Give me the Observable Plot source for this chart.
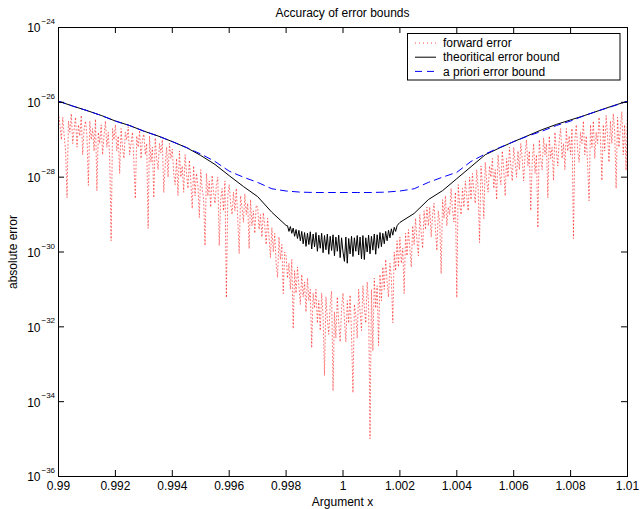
<!DOCTYPE html>
<html><head><meta charset="utf-8">
<script src="https://cdn.jsdelivr.net/npm/d3@7"></script>
<script src="https://cdn.jsdelivr.net/npm/@observablehq/plot@0.6"></script>
<style>
body{margin:0;background:#fff;}
#wrap{position:relative;width:640px;height:509px;font-family:"Liberation Sans",Arial,sans-serif;font-size:12px;color:#000;overflow:hidden;}
#wrap > svg{position:absolute;left:0;top:0;}
.lbl{position:absolute;white-space:nowrap;line-height:14px;}
</style></head><body><div id="wrap"></div>
<script>
// ---- data (log10 of absolute error) ----
const titleText = "Accuracy of error bounds";
const xLabel = "Argument x";
const yLabel = "absolute error";
const seriesNames = ["forward error", "theoritical error bound", "a priori error bound"];

const xTicks = [0.99, 0.992, 0.994, 0.996, 0.998, 1, 1.002, 1.004, 1.006, 1.008, 1.01];
const xTickLabels = ["0.99", "0.992", "0.994", "0.996", "0.998", "1", "1.002", "1.004", "1.006", "1.008", "1.01"];
const yExps = [-36, -34, -32, -30, -28, -26, -24];

// forward error, x from 0.99 to 1.01 (uniform samples)
const forwardLog = [
-26.3,-26.6,-27.0,-26.4,-26.9,-27.3,-28.55,-26.5,-26.8,-26.3,-27.1,-26.7,-26.4,-27.2,-26.6,-26.9,-26.35,-27.4,-26.7,-26.5,
-26.9,-28.22,-26.5,-27.0,-26.7,-27.3,-26.45,-28.36,-26.8,-27.1,-26.6,-27.4,-26.9,-26.5,-27.2,-26.8,-27.5,-29.70,-26.7,-27.0,
-26.6,-27.3,-26.9,-27.90,-26.7,-27.2,-27.5,-26.8,-27.0,-26.65,-27.4,-27.1,-26.8,-27.6,-28.57,-26.9,-27.2,-26.75,-27.5,-27.0,
-26.85,-27.4,-27.1,-29.37,-26.9,-27.6,-27.2,-28.55,-26.95,-27.5,-27.8,-27.1,-27.35,-27.0,-28.41,-27.7,-27.2,-28.0,-27.1,-27.5,
-27.25,-27.9,-28.2,-27.5,-28.49,-27.3,-28.0,-27.7,-28.4,-27.4,-27.9,-28.3,-27.55,-28.1,-28.84,-27.7,-28.5,-27.9,-28.2,-29.08,
-27.8,-28.3,-28.6,-29.83,-27.9,-28.5,-28.1,-28.8,-27.95,-28.4,-28.7,-28.2,-28.0,-29.83,-28.6,-28.3,-28.9,-28.1,-31.22,-28.5,
-28.2,-28.7,-29.0,-28.4,-28.9,-28.3,-29.1,-30.04,-28.5,-28.8,-29.2,-28.45,-29.0,-28.7,-29.91,-28.6,-29.3,-28.9,-29.5,-28.75,
-28.8,-29.4,-29.0,-29.6,-28.95,-29.3,-29.8,-29.1,-29.6,-30.15,-29.35,-30.0,-29.5,-30.3,-30.68,-29.6,-30.2,-29.8,-31.11,-30.0,
-30.1,-30.7,-30.3,-31.0,-30.2,-32.05,-30.5,-31.1,-30.4,-30.9,-31.4,-30.6,-31.2,-30.8,-31.6,-30.7,-31.3,-31.0,-32.56,-31.1,
-31.5,-31.0,-31.9,-31.3,-32.1,-31.1,-31.7,-33.30,-31.2,-31.8,-32.2,-31.4,-31.05,-33.71,-31.6,-32.3,-31.2,-31.9,-32.4,-31.5,
-31.1,-31.8,-32.4,-31.3,-31.9,-31.15,-32.2,-33.76,-31.4,-31.7,-32.3,-31.0,-31.6,-32.1,-30.9,-31.5,-31.9,-30.8,-31.4,-34.99,
-31.0,-32.64,-30.7,-31.5,-30.9,-32.50,-30.6,-31.3,-30.4,-31.0,-30.2,-30.8,-31.2,-30.3,-30.7,-31.89,-30.0,-30.5,-29.7,-30.4,
-29.6,-30.3,-29.9,-31.11,-29.5,-30.1,-29.4,-29.9,-30.4,-29.3,-29.8,-29.1,-29.7,-30.1,-29.0,-29.5,-29.9,-28.9,-29.4,-28.8,
-29.3,-28.8,-29.6,-29.0,-28.7,-29.4,-29.96,-28.9,-29.2,-30.58,-28.6,-29.1,-28.5,-29.3,-28.8,-29.0,-28.3,-28.9,-29.2,-28.4,
-31.22,-28.2,-28.7,-29.0,-28.3,-28.8,-28.1,-28.5,-28.9,-28.0,-28.6,-27.9,-28.4,-28.7,-27.8,-28.3,-29.75,-27.7,-28.2,-29.11,
-27.6,-28.1,-28.4,-27.7,-28.0,-27.5,-28.3,-27.8,-28.6,-27.4,-27.9,-28.2,-27.3,-27.8,-28.5,-27.5,-28.0,-27.2,-27.7,-28.1,
-27.2,-27.6,-28.0,-27.3,-27.8,-27.1,-27.5,-28.1,-27.4,-27.0,-27.7,-27.3,-28.89,-27.6,-27.1,-27.9,-27.4,-29.35,-27.0,-27.5,
-27.8,-26.95,-27.4,-27.1,-28.55,-26.9,-27.5,-27.2,-28.09,-26.8,-27.3,-27.7,-27.0,-26.7,-27.5,-27.1,-27.8,-26.7,-27.3,-26.9,
-27.4,-26.7,-29.64,-27.0,-26.6,-27.3,-27.6,-26.8,-27.1,-26.5,-27.4,-26.9,-27.7,-28.63,-26.6,-27.2,-26.5,-27.5,-26.8,-27.1,
-26.4,-27.0,-28.09,-26.6,-27.3,-26.35,-26.9,-27.6,-26.5,-27.1,-26.3,-26.8,-28.30,-26.4,-27.2,-26.7,-26.25,-27.4,-26.6,-27.82,-26.2
];

// a priori error bound, x = 0.990, 0.9905, ..., 1.010
const aprioriLog = [-25.97,-26.10,-26.22,-26.35,-26.50,-26.62,-26.77,-26.90,-27.05,-27.21,-27.38,-27.58,-27.84,-28.00,-28.14,-28.31,-28.37,-28.40,-28.41,-28.41,-28.41,-28.41,-28.41,-28.40,-28.37,-28.31,-28.14,-28.00,-27.87,-27.58,-27.38,-27.21,-27.05,-26.90,-26.77,-26.62,-26.50,-26.35,-26.22,-26.10,-25.97];

// theoretical error bound: smooth left part x = 0.990..0.998 (step 0.0005)
const theoLeftLog = [-25.97,-26.10,-26.22,-26.35,-26.50,-26.62,-26.77,-26.90,-27.05,-27.21,-27.42,-27.66,-27.96,-28.25,-28.52,-28.94,-29.29];
// noisy center part x = 0.99805..1.00195 (step 0.00005)
const theoCenterLog = [
-29.30,-29.45,-29.32,-29.50,-29.36,-29.58,-29.40,-29.64,-29.42,-29.70,
-29.45,-29.78,-29.48,-29.85,-29.50,-29.80,-29.46,-29.92,-29.52,-29.86,
-29.48,-29.98,-29.55,-29.90,-29.50,-30.02,-29.56,-29.94,-29.52,-30.06,
-29.58,-29.96,-29.54,-30.10,-29.60,-29.98,-29.55,-30.15,-29.62,-30.00,
-30.25,-29.60,-30.30,-29.64,-30.05,-29.58,-30.12,-29.62,-29.98,-29.56,
-30.08,-29.60,-30.18,-29.56,-30.20,-29.62,-30.00,-29.55,-30.05,-29.58,
-29.95,-29.52,-30.06,-29.54,-29.90,-29.48,-29.86,-29.50,-29.78,-29.45,
-29.70,-29.42,-29.62,-29.38,-29.55,-29.34,-29.45,-29.30,-29.25];
// smooth right part x = 1.002..1.010 (step 0.0005)
const theoRightLog = [-29.21,-28.97,-28.60,-28.36,-28.04,-27.72,-27.40,-27.22,-27.05,-26.89,-26.73,-26.59,-26.47,-26.35,-26.22,-26.09,-25.97];

// ---- build tables ----
const grid = (x0, x1, n) => Array.from({length: n}, (_, i) => x0 + (x1 - x0) * i / (n - 1));
const fx = grid(0.99, 1.01, forwardLog.length);
const forward = forwardLog.map((v, i) => ({x: fx[i], y: 10 ** v}));
const ax = grid(0.99, 1.01, aprioriLog.length);
const apriori = aprioriLog.map((v, i) => ({x: ax[i], y: 10 ** v}));
const tlx = grid(0.99, 0.998, theoLeftLog.length);
const tcx = grid(0.99805, 1.00195, theoCenterLog.length);
const trx = grid(1.002, 1.01, theoRightLog.length);
const theo = [
  ...theoLeftLog.map((v, i) => ({x: tlx[i], y: 10 ** v})),
  ...theoCenterLog.map((v, i) => ({x: tcx[i], y: 10 ** v})),
  ...theoRightLog.map((v, i) => ({x: trx[i], y: 10 ** v}))
];

const W = 640, H = 509, mL = 58, mR = 13, mT = 27, mB = 33;
const pW = W - mL - mR, pH = H - mT - mB, tk = 6;

const chart = Plot.plot({
  width: W, height: H,
  marginLeft: mL, marginRight: mR, marginTop: mT, marginBottom: mB,
  style: {fontFamily: "Liberation Sans, Arial, sans-serif", fontSize: "12px", background: "white", overflow: "visible", color: "black"},
  x: {domain: [0.99, 1.01], axis: null},
  y: {type: "log", domain: [1e-36, 1e-24], axis: null},
  marks: [
    Plot.line(forward, {x: "x", y: "y", stroke: "#ff0000", strokeWidth: 1, strokeDasharray: "1,2.5", strokeOpacity: 0.55}),
    Plot.line(theo, {x: "x", y: "y", stroke: "#000000", strokeWidth: 1}),
    Plot.line(apriori, {x: "x", y: "y", stroke: "#0000ff", strokeWidth: 1, strokeDasharray: "7,5"}),
    Plot.frame({stroke: "black", strokeWidth: 1}),
    Plot.tickX(xTicks, {x: d => d, insetTop: pH - tk, stroke: "black"}),
    Plot.tickX(xTicks, {x: d => d, insetBottom: pH - tk, stroke: "black"}),
    Plot.tickY(yExps, {y: e => 10 ** e, insetRight: pW - tk, stroke: "black"}),
    Plot.tickY(yExps, {y: e => 10 ** e, insetLeft: pW - tk, stroke: "black"}),
    Plot.text(xTicks, {x: d => d, text: (d, i) => xTickLabels[i], frameAnchor: "bottom", lineAnchor: "top", dy: 5, fill: "black"}),
    Plot.text(yExps, {y: e => 10 ** e, text: () => "10", frameAnchor: "left", textAnchor: "end", dx: -18, dy: 1, fill: "black"}),
    Plot.text(yExps, {y: e => 10 ** e, text: e => "\u2212" + Math.abs(e), frameAnchor: "left", textAnchor: "start", dx: -17, dy: -6, fontSize: 8, fill: "black"})
  ]
});

const wrap = document.getElementById("wrap");
wrap.appendChild(chart);

function addLabel(text, css) {
  const d = document.createElement("div");
  d.className = "lbl";
  d.textContent = text;
  Object.assign(d.style, css);
  wrap.appendChild(d);
}
addLabel(titleText, {left: mL + "px", width: pW + "px", textAlign: "center", top: "6px"});
addLabel(xLabel, {left: mL + "px", width: pW + "px", textAlign: "center", top: "495px"});
addLabel(yLabel, {left: "13px", top: (mT + pH / 2) + "px", transform: "translate(-50%,-50%) rotate(-90deg)"});

// legend
const ns = "http://www.w3.org/2000/svg";
const lg = document.createElementNS(ns, "svg");
lg.setAttribute("width", 214); lg.setAttribute("height", 48);
lg.style.position = "absolute"; lg.style.left = "407px"; lg.style.top = "33px";
const styles = [
  {stroke: "#ff0000", dash: "1,3", op: 0.7},
  {stroke: "#000000", dash: null, op: 1},
  {stroke: "#0000ff", dash: "7,5", op: 1}
];
let html = `<rect x="0.5" y="0.5" width="212.5" height="46.5" fill="white" stroke="black" stroke-width="1"/>`;
seriesNames.forEach((name, i) => {
  const cy = 10 + i * 14.2;
  const s = styles[i];
  html += `<line x1="8" x2="29" y1="${cy}" y2="${cy}" stroke="${s.stroke}" stroke-width="1" stroke-opacity="${s.op}" ${s.dash ? `stroke-dasharray="${s.dash}"` : ""}/>`;
  html += `<text x="36" y="${cy}" dy="0.35em" font-family="Liberation Sans, Arial, sans-serif" font-size="12" fill="black">${name}</text>`;
});
lg.innerHTML = html;
wrap.appendChild(lg);
</script></body></html>
